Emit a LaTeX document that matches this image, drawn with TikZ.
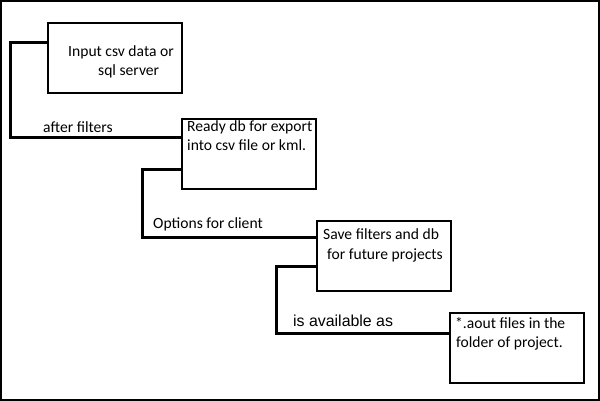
\documentclass[tikz,border=0pt]{standalone}
\usepackage{fontspec}
\setmainfont{Carlito}
\newfontfamily\arialfont{Liberation Sans}
\begin{document}
\begin{tikzpicture}[x=1pt,y=-1pt,
  stepbox/.style={draw,line width=2.4pt,rectangle,minimum width=134pt,minimum height=70pt,anchor=north west,inner sep=0pt},
  conn/.style={line width=3pt,line join=miter},
  txt/.style={anchor=base west,inner sep=0pt,font=\fontsize{15.6pt}{19pt}\selectfont},
  atxt/.style={anchor=base west,inner sep=0pt,font=\arialfont\fontsize{15.9pt}{19pt}\selectfont}]
\useasboundingbox (0,0) rectangle (600,401);
\draw[line width=1.6pt] (1,1) rectangle (599,400);
% boxes
\node[stepbox] (b1) at (47,22) {};
\node[stepbox] (b2) at (181,118) {};
\node[stepbox] (b3) at (316,220) {};
\node[stepbox] (b4) at (449,312) {};
% box texts
\node[txt] (t1a) at (68,57) {Input csv data or};
\node[txt] (t1b) at (98,76) {sql server};
\node[txt] (t2a) at (187,132) {Ready db for export};
\node[txt] (t2b) at (187,151) {into csv file or kml.};
\node[txt] (t3a) at (323,240) {Save filters and db};
\node[txt] (t3b) at (327,259) {for future projects};
\node[txt] (t4a) at (455,328) {*.aout files in the};
\node[txt] (t4b) at (456,347) {folder of project.};
% connector bends
\coordinate (k1) at (10,138);
\coordinate (k2) at (142,237);
\coordinate (k3) at (276,333);
\draw[conn] ([yshift=-21pt]b1.north west) -| (k1) -- (k1 -| b2.west);
\draw[conn] ([yshift=-52pt]b2.north west) -| (k2) -- (k2 -| b3.west);
\draw[conn] ([yshift=-46pt]b3.north west) -| (k3) -- (k3 -| b4.west);
% connector labels
\node[txt] (l1) at (43,133) {after filters};
\node[txt] (l2) at (153,228) {Options for client};
\node[atxt] (l3) at (293,326) {is available as};
\end{tikzpicture}
\end{document}
